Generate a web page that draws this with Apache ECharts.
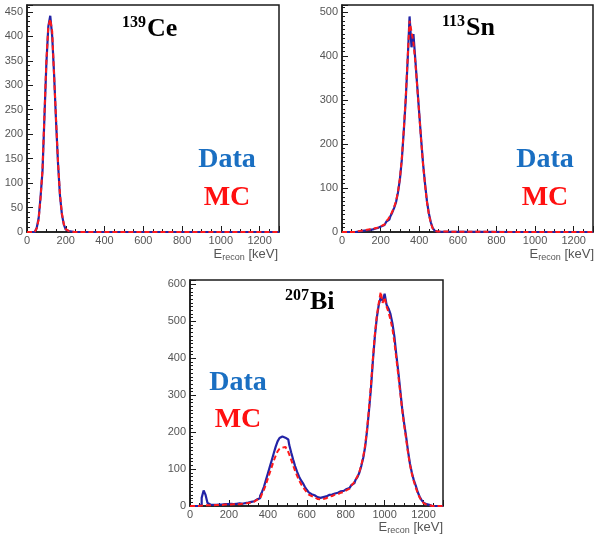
<!DOCTYPE html>
<html><head><meta charset="utf-8">
<script src="https://cdn.jsdelivr.net/npm/echarts@6/dist/echarts.min.js"></script>
<style>html,body{margin:0;padding:0;background:#fff}#c{width:594px;height:538px}</style>
</head><body><div id="c"></div>
<script>
// ---------- data (counts per 10 keV bin) ----------
const binWidth = 10;
const xMin = 0, xMax = 1300;
const xTicks = [0, 200, 400, 600, 800, 1000, 1200];

// 139Ce : first bin centre 25 keV
const ceFirst = 25;
const ceData = [0,0,2,8,28, 72,125,235,345,420, 442,400,320,225,140, 75,36,15,5,2, 1,0,0];
const ceMC   = [0,0,1,7,25, 70,128,240,350,420, 435,410,318,228,143, 77,38,16,6,2, 1,0,0];
const ceYTicks = [0,50,100,150,200,250,300,350,400,450];

// 113Sn : first bin centre 55 keV
const snFirst = 55;
const snData = [0,0,1,1,2,3,3,4,4,5, 6,7,8,10,11,13,16,20,24,28, 35,44,55,68,90,120,165,230,300,390, 490,420,450,390,330,270,210,155,110,70, 42,22,9,3,1,0];
const snMC   = [0,0,1,2,3,3,4,5,5,6, 7,8,9,10,12,14,17,21,25,30, 37,46,57,70,92,122,168,232,305,395, 480,455,430,385,328,268,208,152,108,68, 40,20,8,3,1,0];
const snYTicks = [0,100,200,300,400,500];

// 207Bi : first bin centre 45 keV
const biFirst = 45;
const biData = [
  0,3,22,42,30,8,4,3,4,3,
  4,5,4,5,4,5,6,5,5,6,
  6,7,6,7,8,9,10,11,13,15,
  18,21,27,38,52,70,88,106,124,142,
  160,175,184,188,185,187,180,165,145,126,
  108,93,80,70,62,52,44,37,32,29,
  26,24,22,22,24,26,28,30,31,33,
  34,36,38,40,41,43,46,49,53,57,
  62,70,78,90,108,130,160,205,260,320,
  395,460,510,545,565,555,575,545,535,520,
  495,460,410,365,315,265,225,190,150,115,
  90,70,55,38,25,16,9,5,3,1,
  0,0];
const biMC = [
  0,1,2,2,2,2,2,2,3,3,
  3,3,3,4,4,4,4,4,5,5,
  5,5,6,6,7,8,9,10,12,14,
  17,20,25,33,44,58,74,90,106,122,
  136,148,155,158,160,158,152,140,125,110,
  95,82,70,60,52,44,37,31,27,24,
  21,19,18,18,19,21,23,25,27,29,
  31,32,34,36,38,40,43,47,51,56,
  62,70,80,92,110,133,165,210,265,330,
  400,465,515,550,580,550,565,540,525,505,
  480,445,400,355,308,262,220,183,145,112,
  87,67,50,35,23,14,8,4,2,1,
  0,0];
const biYTicks = [0,100,200,300,400,500,600];

// ---------- helpers ----------
function histPoints(first, counts) {
  const pts = [[xMin, 0]];
  counts.forEach((v, i) => pts.push([first + i * binWidth, v]));
  pts.push([xMax, 0]);
  return pts;
}
const cv = document.createElement('canvas').getContext('2d');
function tw(t, font) { cv.font = font; return cv.measureText(t).width; }

const SANS = '"Liberation Sans", Arial, sans-serif';
const SERIF = '"Liberation Serif", "Times New Roman", serif';
const axisCol = '#1a1a1a';
const labelCol = '#555';
const dataCol = '#2323a6';
const mcCol = '#ff1a1a';
const plain = v => String(v);

function xAxisCfg(gi) {
  return {
    type: 'value', gridIndex: gi, min: xMin, max: xMax, interval: 200,
    axisLine: { show: true, onZero: false, lineStyle: { color: axisCol, width: 1.5 } },
    axisTick: { show: true, inside: true, length: 6, lineStyle: { color: axisCol, width: 1 } },
    minorTick: { show: true, splitNumber: 4, length: 3, lineStyle: { color: axisCol, width: 1 } },
    splitLine: { show: false },
    axisLabel: { show: true, margin: 3, fontSize: 11, color: labelCol, fontFamily: SANS, showMaxLabel: false,
                 formatter: v => (xTicks.indexOf(v) >= 0 ? plain(v) : '') }
  };
}
function yAxisCfg(gi, max, interval, minorSplit, ticks) {
  return {
    type: 'value', gridIndex: gi, min: 0, max: max, interval: interval,
    axisLine: { show: true, lineStyle: { color: axisCol, width: 1.5 } },
    axisTick: { show: true, inside: true, length: 6, lineStyle: { color: axisCol, width: 1 } },
    minorTick: { show: true, splitNumber: minorSplit, length: 3, lineStyle: { color: axisCol, width: 1 } },
    splitLine: { show: false },
    axisLabel: { show: true, margin: 4, fontSize: 11, color: labelCol, fontFamily: SANS, showMaxLabel: false,
                 formatter: v => (ticks.indexOf(v) >= 0 ? plain(v) : '') }
  };
}
function histSeries(name, gi, first, counts, isMC) {
  return {
    name: name, type: 'line', xAxisIndex: gi, yAxisIndex: gi,
    data: histPoints(first, counts), step: 'middle', symbol: 'none', silent: true,
    animation: false,
    lineStyle: isMC ? { color: mcCol, width: 2, type: [5, 3] } : { color: dataCol, width: 2.2 },
    z: isMC ? 3 : 2
  };
}
function txt(t, x, y, font, fill, align) {
  return { type: 'text', x: x, y: y, silent: true, z: 10,
    style: { text: t, font: font, fill: fill, align: align || 'left', textAlign: align || 'left',
             verticalAlign: 'middle', textVerticalAlign: 'middle' } };
}
function isotope(sup, main, xMainLeft, yMid) {
  const fMain = 'bold 26px ' + SERIF, fSup = 'bold 16px ' + SERIF;
  return [txt(sup, xMainLeft - 1, yMid - 6, fSup, '#000', 'right'),
          txt(main, xMainLeft, yMid, fMain, '#000', 'left')];
}
function legendText(cx, yData, yMC) {
  const f = 'bold 28px ' + SERIF;
  return [txt('Data', cx, yData, f, '#1a6fc2', 'center'),
          txt('MC', cx, yMC, f, '#ff1010', 'center')];
}
function axisTitle(right, yMid) {
  const f1 = '13px ' + SANS, f2 = '9px ' + SANS;
  const wK = tw(' [keV]', f1), wR = tw('recon', f2);
  return [
    txt(' [keV]', right, yMid, f1, labelCol, 'right'),
    txt('recon', right - wK, yMid + 4, f2, labelCol, 'right'),
    txt('E', right - wK - wR, yMid, f1, labelCol, 'right')
  ];
}

const chart = echarts.init(document.getElementById('c'), null, { renderer: 'canvas' });
chart.setOption({
  backgroundColor: '#fff',
  animation: false,
  grid: [
    { left: 27, top: 5, width: 252, height: 227, show: true, borderColor: axisCol, borderWidth: 1.5, backgroundColor: 'transparent', containLabel: false, outerBoundsMode: 'none' },
    { left: 342, top: 5, width: 251, height: 227, show: true, borderColor: axisCol, borderWidth: 1.5, backgroundColor: 'transparent', containLabel: false, outerBoundsMode: 'none' },
    { left: 190, top: 280, width: 253, height: 226, show: true, borderColor: axisCol, borderWidth: 1.5, backgroundColor: 'transparent', containLabel: false, outerBoundsMode: 'none' }
  ],
  xAxis: [xAxisCfg(0), xAxisCfg(1), xAxisCfg(2)],
  yAxis: [yAxisCfg(0, 464, 50, 5, ceYTicks), yAxisCfg(1, 516, 100, 10, snYTicks), yAxisCfg(2, 612, 100, 10, biYTicks)],
  series: [
    histSeries('Data', 0, ceFirst, ceData, false),
    histSeries('MC', 0, ceFirst, ceMC, true),
    histSeries('Data', 1, snFirst, snData, false),
    histSeries('MC', 1, snFirst, snMC, true),
    histSeries('Data', 2, biFirst, biData, false),
    histSeries('MC', 2, biFirst, biMC, true)
  ],
  graphic: { elements: [].concat(
    isotope('139', 'Ce', 147, 29),
    isotope('113', 'Sn', 466, 28),
    isotope('207', 'Bi', 310, 302),
    legendText(227, 160, 198),
    legendText(545, 160, 198),
    legendText(238, 383, 420),
    axisTitle(278, 254),
    axisTitle(594, 254),
    axisTitle(443, 527)
  ) }
});
</script>
</body></html>
